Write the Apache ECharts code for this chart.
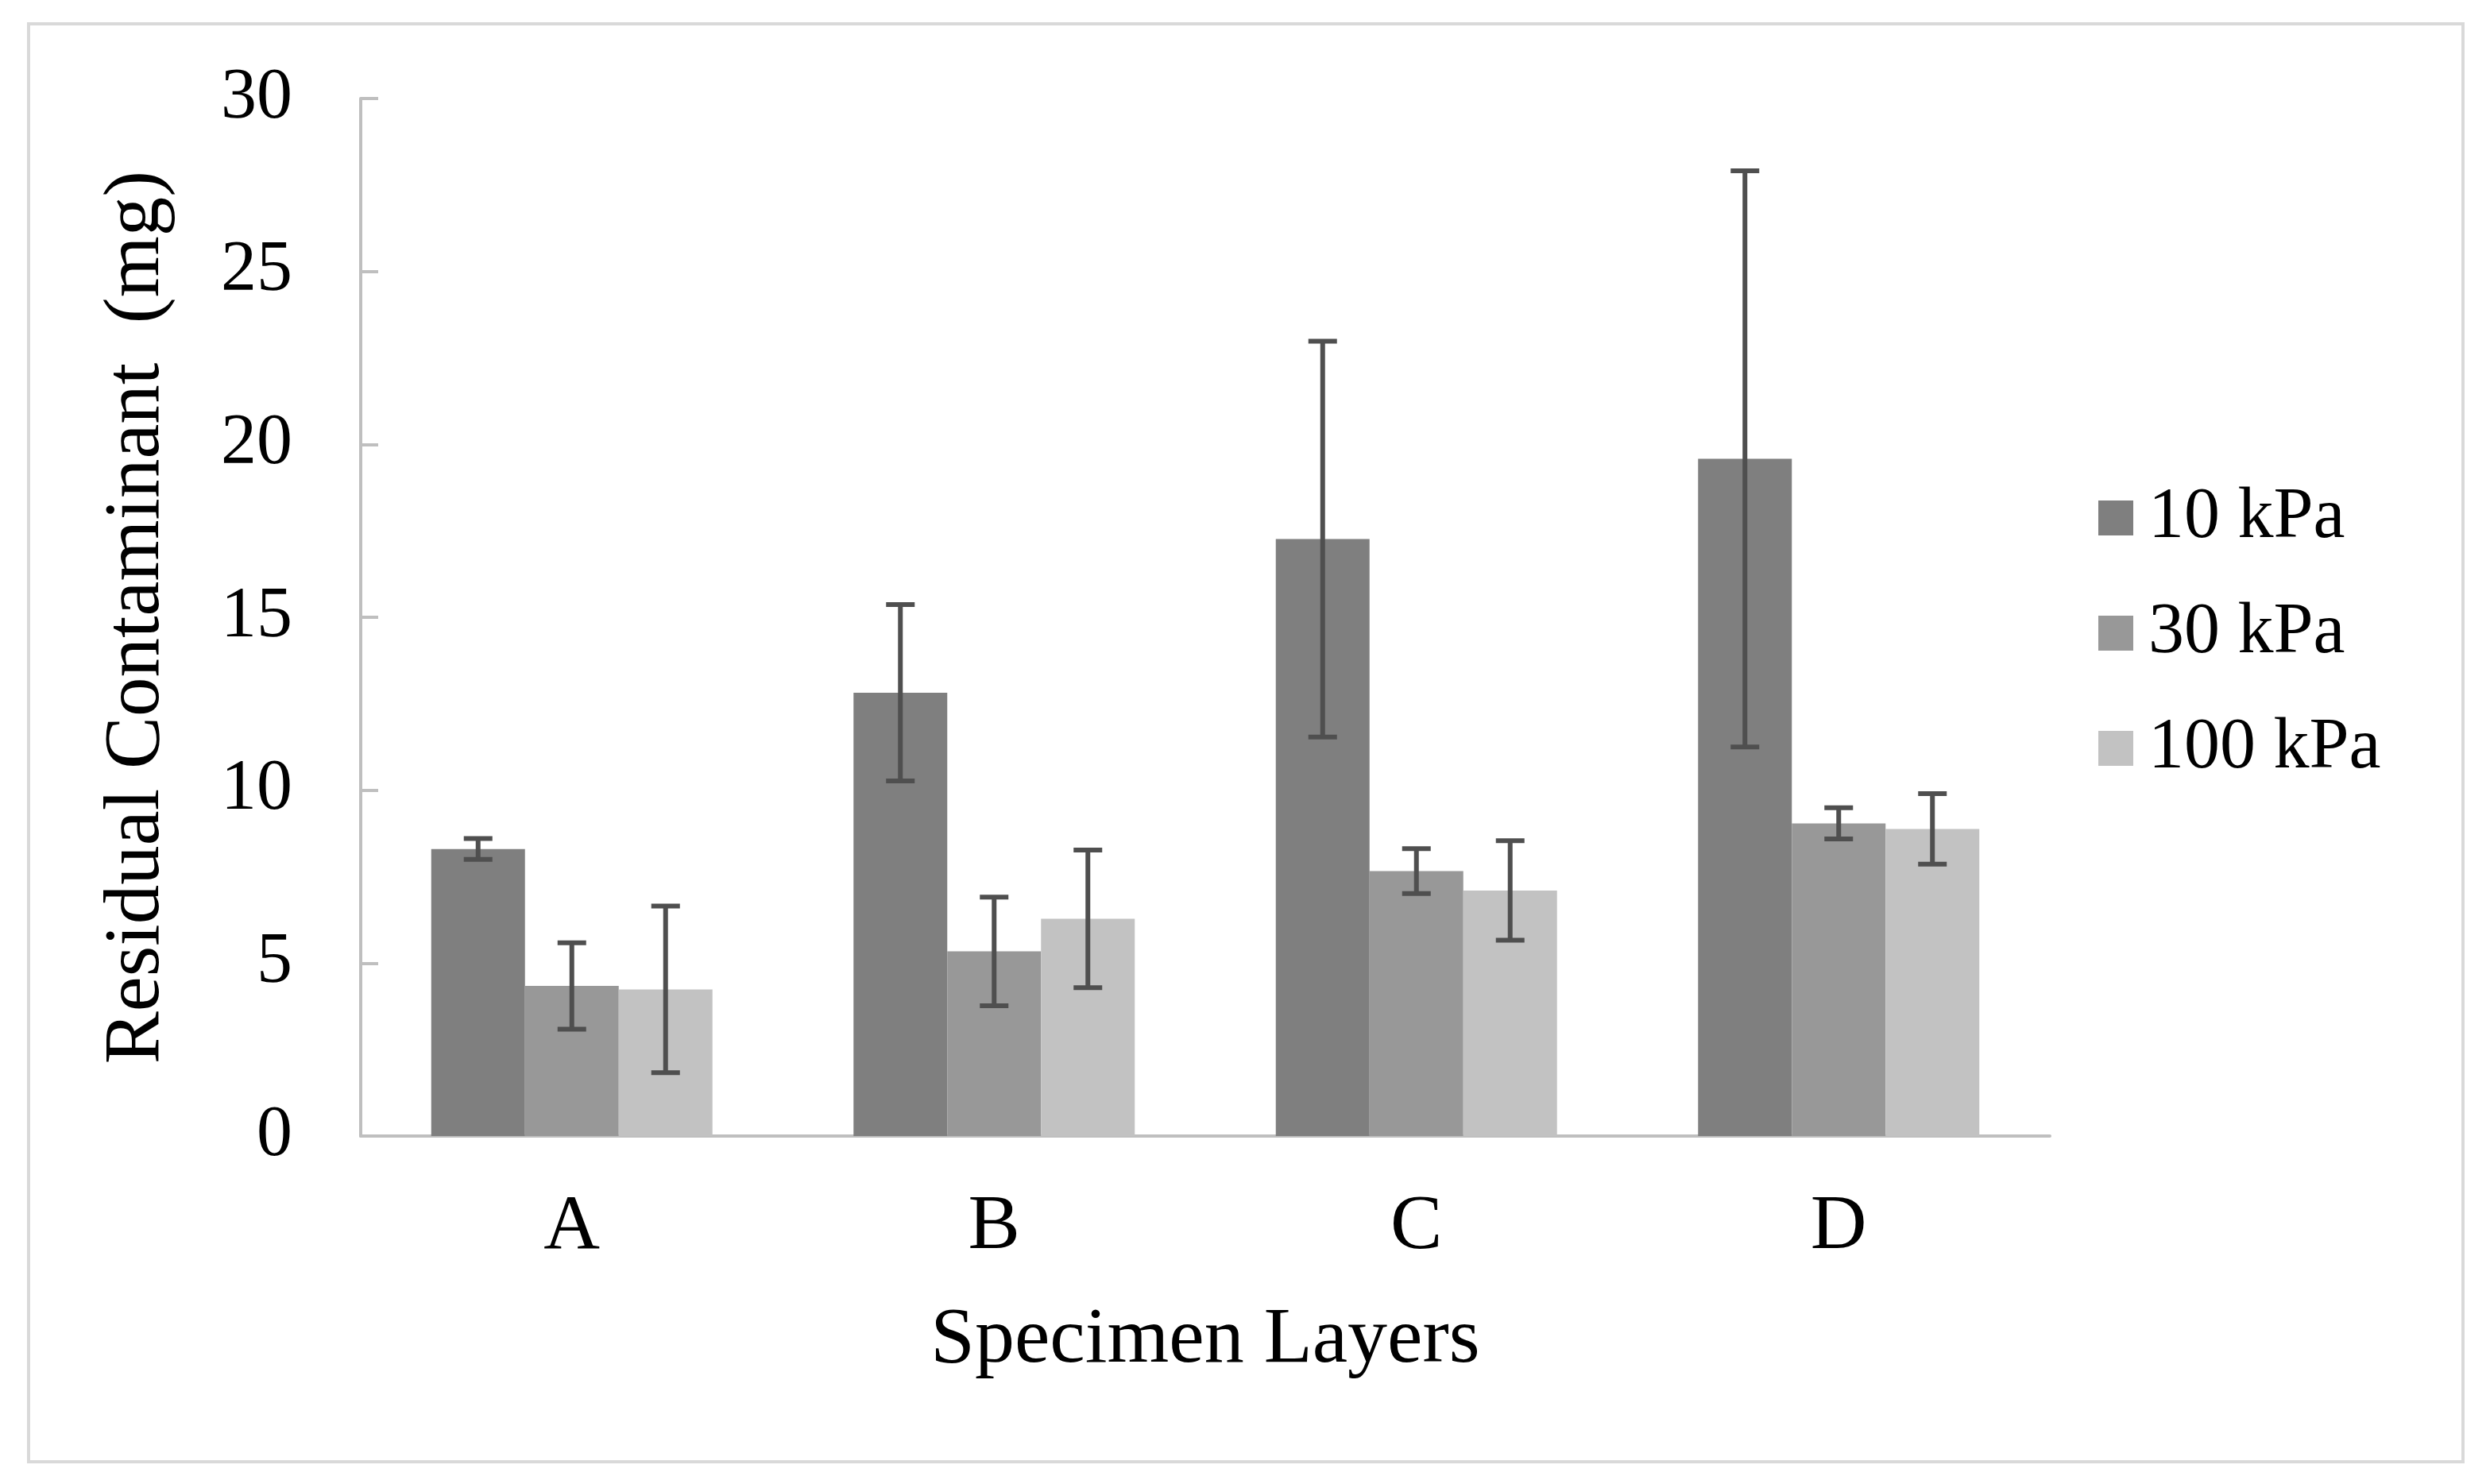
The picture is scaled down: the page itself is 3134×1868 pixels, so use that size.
<!DOCTYPE html>
<html>
<head>
<meta charset="utf-8">
<script src="https://cdn.jsdelivr.net/npm/echarts@6/dist/echarts.min.js"></script>
<style>
html,body{margin:0;padding:0;background:#fff;}
#chart{width:3134px;height:1868px;}
</style>
</head>
<body>
<div id="chart"></div>
<script>
const categories = ['A', 'B', 'C', 'D'];
const seriesNames = ['10 kPa', '30 kPa', '100 kPa'];
const mean10 = [8.3, 12.82, 17.26, 19.58];
const sd10 = [0.3, 2.55, 5.72, 8.33];
const mean30 = [4.34, 5.34, 7.66, 9.04];
const sd30 = [1.25, 1.57, 0.65, 0.45];
const mean100 = [4.24, 6.28, 7.1, 8.88];
const sd100 = [2.41, 1.99, 1.44, 1.02];
const yTicks = [0, 5, 10, 15, 20, 25, 30];

const means = [mean10, mean30, mean100];
const sds = [sd10, sd30, sd100];
const colors = ['#7f7f7f', '#989898', '#c2c2c2'];
const FONT = '"Liberation Serif", "Times New Roman", serif';
const BAR_FRAC = 0.222;

const chart = echarts.init(document.getElementById('chart'), null, {renderer: 'canvas'});

const barSeries = seriesNames.map((name, i) => ({
  name: name,
  type: 'bar',
  data: means[i],
  barWidth: (BAR_FRAC * 100) + '%',
  barGap: '0%',
  itemStyle: {color: colors[i]},
  z: 2
}));

const errSeries = seriesNames.map((name, i) => ({
  name: name + ' err',
  type: 'custom',
  data: categories.map((c, k) => [k, means[i][k] - sds[i][k], means[i][k] + sds[i][k]]),
  encode: {x: 0, y: [1, 2]},
  z: 5,
  renderItem: function (params, api) {
    const k = api.value(0);
    const lo = api.coord([k, api.value(1)]);
    const hi = api.coord([k, api.value(2)]);
    const band = api.size([1, 0])[0];
    const x = lo[0] + (i - 1) * BAR_FRAC * band;
    const half = 18;
    const style = {stroke: '#4f4f4f', lineWidth: 6};
    return {
      type: 'group',
      children: [
        {type: 'line', shape: {x1: x, y1: lo[1], x2: x, y2: hi[1]}, style: style},
        {type: 'line', shape: {x1: x - half, y1: lo[1], x2: x + half, y2: lo[1]}, style: style},
        {type: 'line', shape: {x1: x - half, y1: hi[1], x2: x + half, y2: hi[1]}, style: style}
      ]
    };
  }
}));

const option = {
  backgroundColor: '#ffffff',
  animation: false,
  textStyle: {fontFamily: FONT},
  graphic: [{
    type: 'rect',
    shape: {x: 36, y: 30, width: 3064, height: 1810},
    style: {fill: 'none', stroke: '#d9d9d9', lineWidth: 4},
    z: 0
  }],
  grid: {left: 454, top: 124, right: 554, bottom: 438, containLabel: false},
  legend: {
    data: seriesNames,
    orient: 'vertical',
    left: 2636,
    top: 602,
    itemWidth: 44,
    itemHeight: 44,
    itemGap: 55,
    icon: 'rect',
    textStyle: {fontFamily: FONT, fontSize: 90, color: '#000', padding: [0, 0, 0, 14], lineHeight: 88}
  },
  xAxis: {
    type: 'category',
    data: categories,
    name: 'Specimen Layers',
    nameLocation: 'middle',
    nameGap: 208,
    nameTextStyle: {fontFamily: FONT, fontSize: 100, color: '#000'},
    axisLine: {lineStyle: {color: '#bfbfbf', width: 4}},
    axisTick: {show: false},
    axisLabel: {fontFamily: FONT, fontSize: 98, color: '#000', margin: 66}
  },
  yAxis: {
    type: 'value',
    min: 0,
    max: 30,
    interval: 5,
    name: 'Residual Contaminant  (mg)',
    nameLocation: 'middle',
    nameGap: 232,
    nameTextStyle: {fontFamily: FONT, fontSize: 99, color: '#000'},
    axisLine: {show: true, lineStyle: {color: '#bfbfbf', width: 4}},
    axisTick: {show: true, inside: true, length: 22, lineStyle: {color: '#bfbfbf', width: 4}},
    splitLine: {show: false},
    axisLabel: {
      fontFamily: FONT, fontSize: 90, color: '#000', margin: 86,
      formatter: v => (yTicks.indexOf(v) >= 0 ? String(v) : '')
    }
  },
  series: barSeries.concat(errSeries)
};
chart.setOption(option);
</script>
</body>
</html>
